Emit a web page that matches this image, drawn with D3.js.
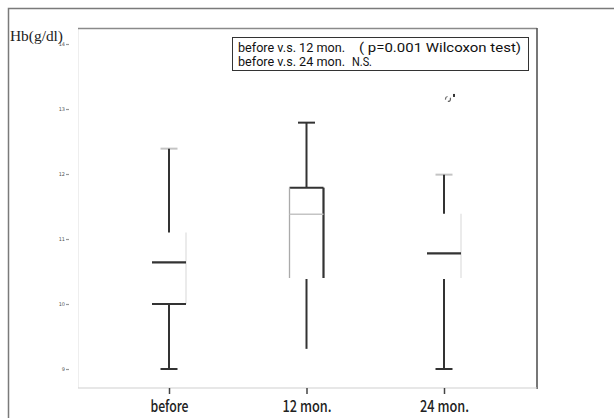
<!DOCTYPE html>
<html>
<head>
<meta charset="utf-8">
<script src="https://cdn.jsdelivr.net/npm/d3@7"></script>
<style>
  body { margin: 0; background: #fff; }
  svg { display: block; }
</style>
</head>
<body>
<div id="chart"></div>
<script>
// data
var categories = ["before", "12 mon.", "24 mon."],
	maxVals = [12.39, 12.79, 11.99],
	q3Vals = [11.1, 11.79, 11.39],
	medianVals = [10.64, 11.38, 10.78],
	q1Vals = [10.0, 10.4, 10.4],
	minVals = [9.0, 9.31, 9.0],
	outliers = [[], [], [13.17]],
	yTicks = [9, 10, 11, 12, 13, 14],
	// each note line: [left part, right part]
	note = [["before v.s. 12 mon.", "( p=0.001 Wilcoxon test)"], ["before v.s. 24 mon.", "N.S."]];

var width = 614,
	height = 418,
	svg = d3.select("#chart")
	.append("svg")
	.attr("width", width)
	.attr("height", height);

var x = d3.scalePoint()
	.domain(categories)
	.range([169, 444]);

var y = d3.scaleLinear()
	.domain([9, 14])
	.range([369, 44]);

var half = 17, capHalf = 8.5;

// outer frame
svg.append("path")
	.attr("d", "M8.5,420V8.5H620")
	.attr("fill", "none")
	.attr("stroke", "#7a7a7a")
	.attr("stroke-width", 1.5);

// plot frame
svg.append("line").attr("x1", 78.5).attr("x2", 78.5).attr("y1", 28).attr("y2", 388)
	.attr("stroke", "#eeeeee");
svg.append("line").attr("x1", 78).attr("x2", 537).attr("y1", 28.5).attr("y2", 28.5)
	.attr("stroke", "#8a8a8a").attr("stroke-width", 1.3);
svg.append("line").attr("x1", 537).attr("x2", 537).attr("y1", 28).attr("y2", 389)
	.attr("stroke", "#555").attr("stroke-width", 1.6);
svg.append("line").attr("x1", 78).attr("x2", 537).attr("y1", 388).attr("y2", 388)
	.attr("stroke", "#d0d0d0").attr("stroke-width", 1.2);

// y axis (faint, nearly unreadable in the source)
var yAxis = d3.axisLeft(y).tickValues(yTicks).tickFormat(d3.format("d")).tickSize(3).tickPadding(1);
var yg = svg.append("g")
	.attr("transform", "translate(69,0)")
	.call(yAxis);
yg.select(".domain").remove();
yg.selectAll(".tick line").attr("stroke", "#999").attr("stroke-width", 1.2);
yg.selectAll(".tick text")
	.attr("font-size", 5)
	.attr("fill", "#555")
	.attr("font-family", "DejaVu Sans");

// x axis
var xAxis = d3.axisBottom(x).tickSize(6).tickPadding(7);
var xg = svg.append("g")
	.attr("transform", "translate(0,388)")
	.call(xAxis);
xg.select(".domain").remove();
xg.selectAll(".tick line").attr("stroke", "#444").attr("stroke-width", 1.5);
xg.selectAll(".tick text")
	.attr("font-size", 16)
	.attr("fill", "#222")
	.attr("font-weight", 500)
	.attr("font-family", "'Noto Sans CJK JP', 'Noto Sans'")
	.attr("textLength", function(d) { return d === "before" ? 38 : 49; })
	.attr("lengthAdjust", "spacingAndGlyphs");

// how each part of every box shows up in the source (faded print)
var dark = "#333", light = "#c4c4c4", faint = "#e0e0e0";
var look = [
	{ cap: light, whiskUp: dark, top: null, left: null, right: faint, median: dark, medianW: 2.2, bottom: dark, whiskDown: dark, capLow: dark },
	{ cap: dark, whiskUp: dark, top: dark, left: "#aaa", right: dark, rightW: 2.2, median: light, medianW: 1.5, bottom: null, whiskDown: dark, capLow: null },
	{ cap: light, whiskUp: dark, top: null, left: null, right: faint, median: dark, medianW: 2.2, bottom: null, whiskDown: dark, capLow: dark }
];

var boxes = svg.append("g").attr("class", "boxes");

categories.forEach(function(c, i) {
	var cx = x(c), s = look[i], g = boxes.append("g");
	function seg(x1, y1, x2, y2, col, w) {
		if (!col) return;
		g.append("line")
			.attr("x1", x1).attr("y1", y1).attr("x2", x2).attr("y2", y2)
			.attr("stroke", col).attr("stroke-width", w || 1.8);
	}
	seg(cx - capHalf, y(maxVals[i]), cx + capHalf, y(maxVals[i]), s.cap, 2);
	seg(cx, y(maxVals[i]), cx, y(q3Vals[i]), s.whiskUp, 2);
	seg(cx - half, y(q3Vals[i]), cx + half, y(q3Vals[i]), s.top, 2);
	seg(cx - half, y(q3Vals[i]), cx - half, y(q1Vals[i]), s.left, 1.3);
	seg(cx + half, y(q3Vals[i]), cx + half, y(q1Vals[i]), s.right, s.rightW || 1.3);
	seg(cx - half, y(medianVals[i]), cx + half, y(medianVals[i]), s.median, s.medianW);
	seg(cx - half, y(q1Vals[i]), cx + half, y(q1Vals[i]), s.bottom, 2);
	seg(cx, y(q1Vals[i]) + 1, cx, y(minVals[i]), s.whiskDown, 2);
	seg(cx - capHalf, y(minVals[i]), cx + capHalf, y(minVals[i]), s.capLow, 2);
	outliers[i].forEach(function(v) {
		g.append("circle")
			.attr("cx", cx + 4).attr("cy", y(v) + 1).attr("r", 2.5)
			.attr("fill", "none").attr("stroke", "#666").attr("stroke-width", 1.2)
			.attr("stroke-dasharray", "4,3");
		g.append("rect")
			.attr("x", cx + 9).attr("y", y(v) - 4).attr("width", 2).attr("height", 3)
			.attr("fill", "#333");
	});
});

// y title
svg.append("text")
	.attr("x", 10)
	.attr("y", 41)
	.attr("font-family", "'Liberation Serif', serif")
	.attr("font-size", 14)
	.attr("fill", "#222")
	.attr("textLength", 53)
	.attr("lengthAdjust", "spacingAndGlyphs")
	.text("Hb(g/dl)");

// note box
var nb = svg.append("g").attr("transform", "translate(232,37)");
nb.append("rect")
	.attr("x", 0.5).attr("y", 0.5)
	.attr("width", 296).attr("height", 33)
	.attr("fill", "#fff")
	.attr("stroke", "#333");
var partX = [[6, 127], [6, 120]],
	partW = [[107, 162], [107, 20]];
note.forEach(function(line, i) {
	nb.selectAll(".n" + i)
		.data(line)
		.enter()
		.append("text")
		.attr("class", "n" + i)
		.attr("x", function(d, j) { return partX[i][j]; })
		.attr("y", 14.5 + i * 14)
		.attr("font-family", "Roboto, 'Noto Sans'")
		.attr("font-size", 12.5)
		.attr("fill", "#111")
		.attr("textLength", function(d, j) { return partW[i][j]; })
		.attr("lengthAdjust", "spacingAndGlyphs")
		.text(function(d) { return d; });
});
</script>
</body>
</html>
